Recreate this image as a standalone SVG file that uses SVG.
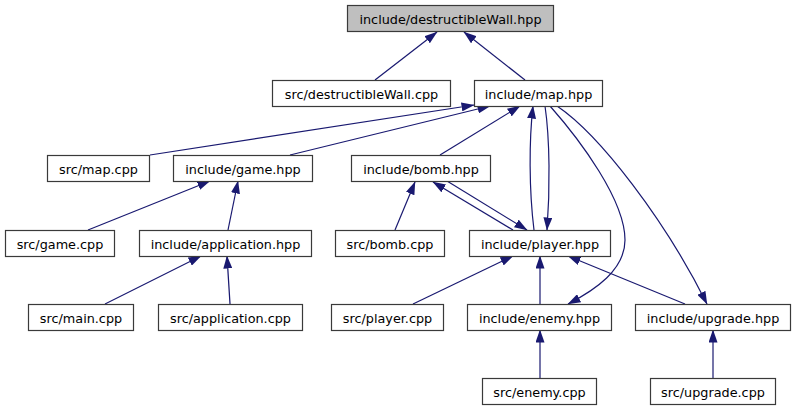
<svg xmlns="http://www.w3.org/2000/svg" width="796" height="411" viewBox="0 0 796 411">
<defs>
<marker id="ah" viewBox="0 0 13 9" refX="12.5" refY="4.5" markerWidth="13" markerHeight="9" markerUnits="userSpaceOnUse" orient="auto">
<path d="M0,0 L13,4.5 L0,9 z" fill="#191970"/>
</marker>
<style>
.n rect{fill:#ffffff;stroke:#3a3a3a;stroke-width:1.2}
.n.top rect{fill:#bfbfbf}
.n text{font-family:"DejaVu Sans","Noto Sans",sans-serif;font-size:12.8px;fill:#000;text-anchor:middle}
#edges path{fill:none;stroke:#191970;stroke-width:1.2;marker-end:url(#ah)}
</style>
</defs>
<rect width="796" height="411" fill="#ffffff"/>
<g id="edges">
<path d="M375,80 L437,32"/>
<path d="M525,80 L464,32"/>
<path d="M150,155 L474,105"/>
<path d="M290,155 L490,106"/>
<path d="M440,155 L520,106"/>
<path d="M534,230 C529,190 529,140 533,106"/>
<path d="M545,106 C550,140 550,190 547,230"/>
<path d="M550,106 C580,140 625,200 625,240 C625,270 595,290 568,304"/>
<path d="M557,106 C600,135 665,220 707,304"/>
<path d="M447,181 L527,230"/>
<path d="M513,230 L433,182"/>
<path d="M395,230 L415,182"/>
<path d="M88,230 L210,181"/>
<path d="M228,230 L238,181"/>
<path d="M105,304 L201,256"/>
<path d="M230,304 L227,256"/>
<path d="M413,304 L513,256"/>
<path d="M540,304 L540,256"/>
<path d="M685,304 L568,256"/>
<path d="M540,378 L540,330"/>
<path d="M713,378 L713,330"/>
</g>
<g id="dwh" class="n top"><rect x="347.5" y="5.5" width="206" height="26"/><text x="450.5" y="24">include/destructibleWall.hpp</text></g>
<g id="dwcpp" class="n"><rect x="272.5" y="80.5" width="178" height="26"/><text x="361.5" y="99">src/destructibleWall.cpp</text></g>
<g id="map" class="n"><rect x="474.5" y="80.5" width="128" height="26"/><text x="538.5" y="99">include/map.hpp</text></g>
<g id="mapcpp" class="n"><rect x="47.5" y="155.5" width="102" height="26"/><text x="98.5" y="174">src/map.cpp</text></g>
<g id="game" class="n"><rect x="173.5" y="155.5" width="139" height="26"/><text x="243" y="174">include/game.hpp</text></g>
<g id="bomb" class="n"><rect x="351.5" y="155.5" width="139" height="26"/><text x="421" y="174">include/bomb.hpp</text></g>
<g id="gamecpp" class="n"><rect x="5.5" y="230.5" width="109" height="26"/><text x="60" y="249">src/game.cpp</text></g>
<g id="app" class="n"><rect x="139.5" y="230.5" width="172" height="26"/><text x="225.5" y="249">include/application.hpp</text></g>
<g id="bombcpp" class="n"><rect x="335.5" y="230.5" width="109" height="26"/><text x="390" y="249">src/bomb.cpp</text></g>
<g id="player" class="n"><rect x="469.5" y="230.5" width="141" height="26"/><text x="540" y="249">include/player.hpp</text></g>
<g id="maincpp" class="n"><rect x="28.5" y="304.5" width="105" height="26"/><text x="81" y="323">src/main.cpp</text></g>
<g id="appcpp" class="n"><rect x="158.5" y="304.5" width="144" height="26"/><text x="230.5" y="323">src/application.cpp</text></g>
<g id="playercpp" class="n"><rect x="331.5" y="304.5" width="112" height="26"/><text x="387.5" y="323">src/player.cpp</text></g>
<g id="enemy" class="n"><rect x="467.5" y="304.5" width="144" height="26"/><text x="539.5" y="323">include/enemy.hpp</text></g>
<g id="upgrade" class="n"><rect x="635.5" y="304.5" width="155" height="26"/><text x="713" y="323">include/upgrade.hpp</text></g>
<g id="enemycpp" class="n"><rect x="482.5" y="378.5" width="114" height="26"/><text x="539.5" y="397">src/enemy.cpp</text></g>
<g id="upgradecpp" class="n"><rect x="650.5" y="378.5" width="125" height="26"/><text x="713" y="397">src/upgrade.cpp</text></g>
</svg>
